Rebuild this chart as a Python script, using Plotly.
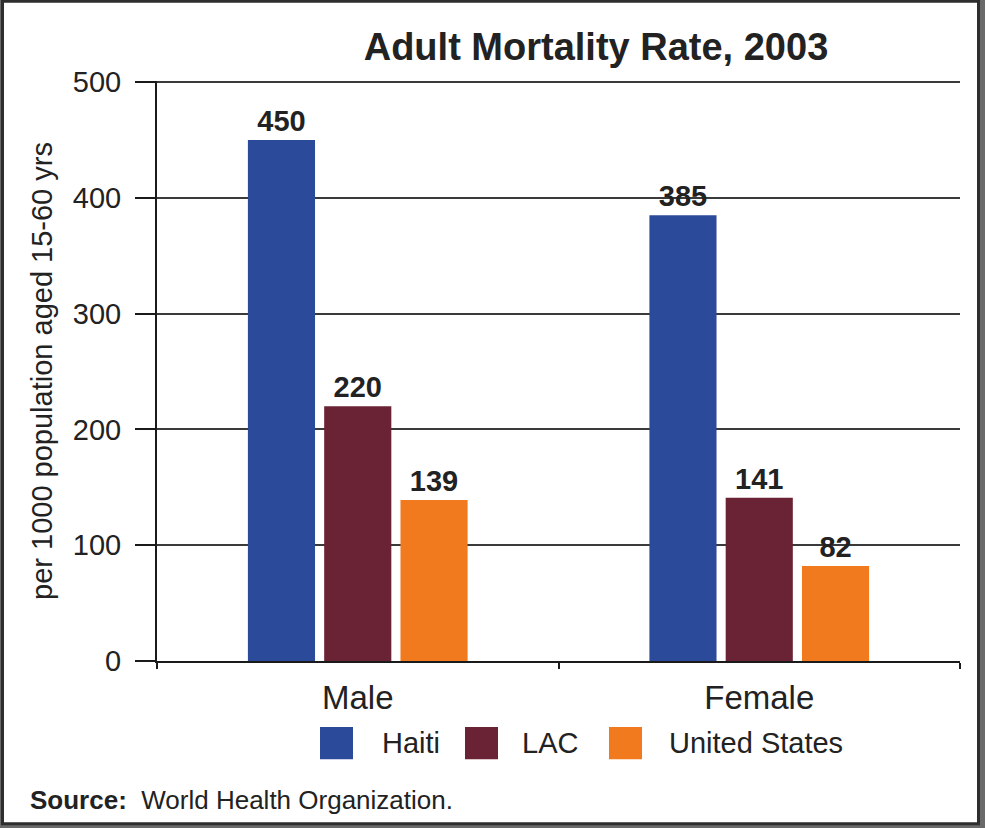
import plotly.graph_objects as go

categories = ["Male", "Female"]
series_names = ["Haiti", "LAC", "United States"]
haiti = [450, 385]
lac = [220, 141]
united_states = [139, 82]
series_values = [haiti, lac, united_states]
colors = ["#2C4A9A", "#6A2334", "#F27A1E"]
y_ticks = [0, 100, 200, 300, 400, 500]

W, H = 985, 828
L, R, T, B = 157, 25, 82, 167
PW, PH = W - L - R, H - T - B


def px_x(px):
    return (px - L) / PW


def px_y(py):
    return (H - B - py) / PH


FONT = "Arial, Liberation Sans, sans-serif"
TXT = "#222222"

fig = go.Figure()
for name, vals, col in zip(series_names, series_values, colors):
    fig.add_trace(go.Bar(
        x=categories, y=vals, name=name,
        marker=dict(color=col, line=dict(width=0)),
        text=[str(v) for v in vals], textposition="outside",
        textfont=dict(family=FONT, size=29, color=TXT, weight="bold"),
        cliponaxis=False, showlegend=False,
    ))

shapes = [
    dict(type="rect", xref="paper", yref="paper",
         x0=px_x(2.5), x1=px_x(978.5), y0=px_y(823.5), y1=px_y(2.5),
         fillcolor="white", line=dict(color="#2e2e2e", width=3), layer="below"),
]
annotations = []
leg_sq_x = [320, 465, 609]
leg_tx_x = [380, 520, 667]
for name, col, sx, tx in zip(series_names, colors, leg_sq_x, leg_tx_x):
    shapes.append(dict(type="rect", xref="paper", yref="paper",
                       x0=px_x(sx), x1=px_x(sx + 33), y0=px_y(759), y1=px_y(727),
                       fillcolor=col, line=dict(width=0)))
    annotations.append(dict(xref="paper", yref="paper", x=px_x(tx), y=px_y(743),
                            xanchor="left", yanchor="middle", showarrow=False,
                            text=name, font=dict(family=FONT, size=29, color=TXT)))

annotations.append(dict(xref="paper", yref="paper", x=px_x(28), y=px_y(800),
                        xanchor="left", yanchor="middle", showarrow=False,
                        text="<b>Source:</b>  World Health Organization.",
                        font=dict(family=FONT, size=26, color=TXT)))

fig.update_layout(
    width=W, height=H,
    margin=dict(l=L, r=R, t=T - 1, b=B, pad=0),
    paper_bgcolor="#6a6a6a", plot_bgcolor="white",
    barmode="group", bargap=0.43, bargroupgap=0.12,
    title=dict(text="<b>Adult Mortality Rate, 2003</b>", x=596 / W, xref="container",
               xanchor="center", y=1 - 47 / H, yref="container", yanchor="middle",
               font=dict(family=FONT, size=38, color=TXT)),
    shapes=shapes, annotations=annotations,
    showlegend=False,
)
fig.update_xaxes(
    showline=True, linecolor="#1a1a1a", linewidth=2,
    ticks="outside", tickson="boundaries", ticklen=6, tickcolor="#1a1a1a", tickwidth=2,
    tickfont=dict(family=FONT, size=33, color=TXT), ticklabelstandoff=6,
    showgrid=False,
)
fig.update_yaxes(
    range=[0, 501], tickvals=y_ticks, ticktext=[str(v) for v in y_ticks],
    showline=True, linecolor="#1a1a1a", linewidth=2,
    ticks="outside", ticklen=20, tickcolor="#1a1a1a", tickwidth=1.5,
    tickfont=dict(family=FONT, size=29, color=TXT), ticklabelstandoff=8,
    showgrid=True, gridcolor="#3a3a3a", gridwidth=1.5, zeroline=False,
    title=dict(text="per 1000 population aged 15-60 yrs", standoff=12,
               font=dict(family=FONT, size=29, color=TXT)),
)

fig.write_html("out.html")
